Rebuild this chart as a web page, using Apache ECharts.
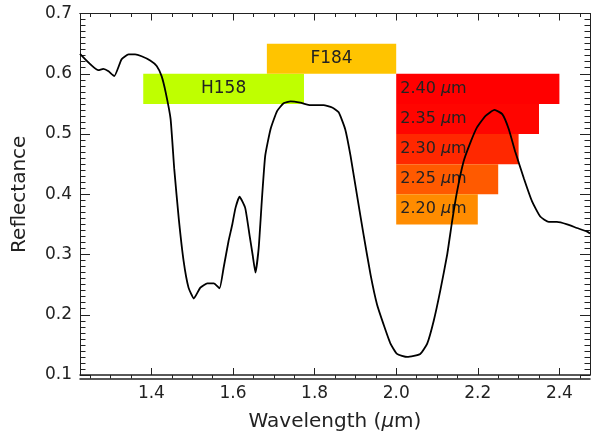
<!DOCTYPE html>
<html><head><meta charset="utf-8">
<script src="https://cdn.jsdelivr.net/npm/echarts@6/dist/echarts.min.js"></script>
<style>html,body{margin:0;padding:0;background:#fff}#c{width:592px;height:437px}</style>
</head><body><div id="c"></div>
<script>
// Spectrum (wavelength in micron, reflectance)
const wavelength = [1.225,1.270,1.282,1.295,1.309,1.327,1.344,1.360,1.376,1.397,1.413,1.425,1.435,1.447,1.456,1.467,1.479,1.491,1.504,1.520,1.537,1.553,1.567,1.577,1.589,1.598,1.606,1.616,1.630,1.641,1.648,1.655,1.663,1.671,1.679,1.692,1.708,1.724,1.741,1.765,1.790,1.822,1.843,1.859,1.875,1.888,1.904,1.920,1.937,1.953,1.969,1.986,2.002,2.027,2.059,2.076,2.092,2.108,2.125,2.137,2.149,2.165,2.182,2.198,2.219,2.241,2.260,2.276,2.292,2.313,2.333,2.353,2.374,2.394,2.419,2.443,2.468,2.475];
const reflectance = [0.633,0.606,0.608,0.604,0.596,0.624,0.632,0.632,0.629,0.622,0.613,0.596,0.569,0.525,0.442,0.360,0.289,0.245,0.227,0.245,0.252,0.252,0.244,0.278,0.322,0.349,0.377,0.396,0.377,0.330,0.300,0.270,0.311,0.393,0.464,0.508,0.538,0.551,0.554,0.552,0.548,0.548,0.544,0.536,0.508,0.464,0.398,0.333,0.267,0.217,0.184,0.152,0.135,0.130,0.135,0.152,0.190,0.240,0.300,0.355,0.404,0.454,0.486,0.511,0.530,0.540,0.533,0.508,0.470,0.426,0.388,0.363,0.354,0.354,0.350,0.344,0.338,0.335];

// Filter boxes
const filterNames = ['H158', 'F184'];
const filterStart = [1.380, 1.683];
const filterEnd = [1.774, 2.000];
const filterLow = [0.55, 0.60];
const filterHigh = [0.60, 0.65];

// Wavelength bands
const bandNames = ['2.40', '2.35', '2.30', '2.25', '2.20'];
const bandStart = [2.0, 2.0, 2.0, 2.0, 2.0];
const bandEnd = [2.40, 2.35, 2.30, 2.25, 2.20];
const bandLow = [0.55, 0.50, 0.45, 0.40, 0.35];
const bandHigh = [0.60, 0.55, 0.50, 0.45, 0.40];

// Axis ticks
const xMajor = [1.4, 1.6, 1.8, 2.0, 2.2, 2.4];
const xMinor = [1.25,1.3,1.35,1.45,1.5,1.55,1.65,1.7,1.75,1.85,1.9,1.95,2.05,2.1,2.15,2.25,2.3,2.35,2.45];
const xMin = 1.225, xMax = 2.475, yMin = 0.1, yMax = 0.7;

const FONT = 'DejaVu Sans';
const TXT = '#222';
const filterColors = ['#bfff00', '#ffc400'];
const bandColors = ['#ff0000', '#ff0500', '#ff2800', '#ff5a00', '#ff8c00'];

const areas = [];
filterNames.forEach((n, i) => {
  areas.push([{
    xAxis: filterStart[i], yAxis: filterHigh[i], name: n,
    itemStyle: { color: filterColors[i], opacity: 1 },
    label: { show: true, position: 'inside', formatter: n, color: TXT, fontFamily: FONT, fontSize: 17 }
  }, { xAxis: filterEnd[i], yAxis: filterLow[i] }]);
});
bandNames.forEach((n, i) => {
  areas.push([{
    xAxis: bandStart[i], yAxis: bandHigh[i], name: n,
    itemStyle: { color: bandColors[i], opacity: 1 },
    label: { show: true, position: 'insideLeft', distance: 4, formatter: n + ' {i|μ}m', color: TXT, fontFamily: FONT, fontSize: 16,
      rich: { i: { fontStyle: 'italic', fontFamily: FONT, fontSize: 16, color: TXT } } }
  }, { xAxis: bandEnd[i], yAxis: bandLow[i] }]);
});

const grid = { left: 80, right: 2, top: 13.5, bottom: 58.5 };
const axisLine = { show: true, lineStyle: { color: '#222', width: 1 } };

function xAx(pos, values, len, gridIndex, withLabel) {
  return {
    type: 'value', gridIndex, position: pos, min: xMin, max: xMax,
    axisLine: { show: true, lineStyle: { color: '#222', width: pos === 'bottom' ? 1.5 : 1 } },
    axisTick: { show: true, inside: true, length: len, customValues: values, lineStyle: { color: '#222', width: 1 } },
    axisLabel: withLabel ? { show: true, customValues: values, formatter: v => v.toFixed(1), color: TXT, fontFamily: FONT, fontSize: 17, margin: 10 } : { show: false },
    splitLine: { show: false },
    name: withLabel ? 'Wavelength ({i|μ}m)' : '',
    nameLocation: 'middle', nameGap: 37,
    nameTextStyle: { color: TXT, fontFamily: FONT, fontSize: 20, rich: { i: { fontStyle: 'italic', fontFamily: FONT, fontSize: 20, color: TXT } } }
  };
}
function yAx(pos, withLabel, gridIndex, show) {
  return {
    type: 'value', gridIndex, position: pos, min: yMin, max: yMax, interval: 0.1, show,
    axisLine,
    axisTick: { show: true, inside: true, length: 10, lineStyle: { color: '#222', width: 1 } },
    minorTick: { show: true, splitNumber: 10, length: 5.5, lineStyle: { color: '#222', width: 1 } },
    axisLabel: withLabel ? { show: true, formatter: v => v.toFixed(1), color: TXT, fontFamily: FONT, fontSize: 17, margin: 8 } : { show: false },
    splitLine: { show: false }, minorSplitLine: { show: false },
    name: withLabel ? 'Reflectance' : '',
    nameLocation: 'middle', nameGap: 50, nameRotate: 90,
    nameTextStyle: { color: TXT, fontFamily: FONT, fontSize: 20 }
  };
}

const chart = echarts.init(document.getElementById('c'), null, { renderer: 'canvas' });
chart.setOption({
  animation: false,
  backgroundColor: '#fff',
  grid: [Object.assign({}, grid), Object.assign({}, grid)],
  xAxis: [
    xAx('bottom', xMajor, 7, 0, true),
    xAx('top', xMajor, 7, 0, false),
    xAx('bottom', xMinor, 3.5, 1, false),
    xAx('top', xMinor, 3.5, 1, false)
  ],
  yAxis: [
    yAx('left', true, 0, true),
    yAx('right', false, 0, true),
    yAx('left', false, 1, false),
    yAx('right', false, 1, false)
  ],
  series: [
    {
      type: 'line', xAxisIndex: 0, yAxisIndex: 0, data: [], z: 1,
      markArea: { silent: true, data: areas }
    },
    {
      type: 'line', xAxisIndex: 0, yAxisIndex: 0, z: 5,
      data: wavelength.map((w, i) => [w, reflectance[i]]),
      showSymbol: false, smooth: 0.15,
      lineStyle: { color: '#000', width: 1.8 }
    }
  ]
});
</script></body></html>
